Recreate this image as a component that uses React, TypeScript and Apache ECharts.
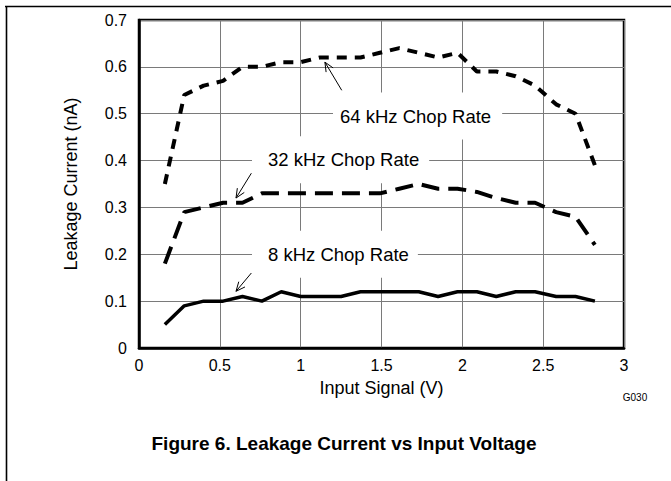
import React, { useEffect, useRef } from "react";
import * as echarts from "echarts";

// ---- data ----
const xValues = [0.16, 0.28, 0.40, 0.52, 0.64, 0.76, 0.88, 1.00, 1.12, 1.25, 1.37, 1.49, 1.61, 1.73, 1.85, 1.97, 2.09, 2.21, 2.33, 2.45, 2.58, 2.70, 2.82];
const rate8 = [0.05, 0.09, 0.10, 0.10, 0.11, 0.10, 0.12, 0.11, 0.11, 0.11, 0.12, 0.12, 0.12, 0.12, 0.11, 0.12, 0.12, 0.11, 0.12, 0.12, 0.11, 0.11, 0.10];
const rate32 = [0.18, 0.29, 0.30, 0.31, 0.31, 0.33, 0.33, 0.33, 0.33, 0.33, 0.33, 0.33, 0.34, 0.35, 0.34, 0.34, 0.333, 0.32, 0.31, 0.31, 0.29, 0.28, 0.22];
const rate64 = [0.35, 0.54, 0.56, 0.57, 0.60, 0.60, 0.61, 0.61, 0.62, 0.62, 0.62, 0.63, 0.64, 0.63, 0.62, 0.63, 0.59, 0.59, 0.58, 0.56, 0.52, 0.50, 0.39];
const seriesNames = ["8 kHz Chop Rate", "32 kHz Chop Rate", "64 kHz Chop Rate"];
const xAxisTitle = "Input Signal (V)";
const yAxisTitle = "Leakage Current (nA)";
const captionText = "Figure 6. Leakage Current vs Input Voltage";
const figureCode = "G030";

// annotation anchors in data units (left edge of the white label box)
const labelAnchors = [
  { text: "64 kHz Chop Rate", x: 1.2, y: 0.495, padL: 7, padR: 11 },
  { text: "32 kHz Chop Rate", x: 0.699, y: 0.402, padL: 16, padR: 10 },
  { text: "8 kHz Chop Rate", x: 0.699, y: 0.2, padL: 16, padR: 9 },
];
const arrowAnchors = [
  { from: [1.254, 0.55], to: [1.15, 0.61] },
  { from: [0.695, 0.373], to: [0.6, 0.32] },
  { from: [0.695, 0.16], to: [0.6, 0.121] },
];

const FONT = "'Liberation Sans', Arial, Helvetica, sans-serif";

export default function App() {
  const ref = useRef<HTMLDivElement>(null);

  useEffect(() => {
    if (!ref.current) return;
    const chart = echarts.init(ref.current, null, { renderer: "svg" });
    const pairs = (ys: number[]) => xValues.map((x, i) => [x, ys[i]]);

    const axisCommon = {
      type: "value" as const,
      axisLine: { show: true, lineStyle: { color: "#000", width: 2.5 } },
      axisTick: { show: false },
      splitLine: { show: true, lineStyle: { color: "#7a7a7a", width: 1 } },
      nameLocation: "middle" as const,
      nameTextStyle: { color: "#000", fontSize: 18, fontFamily: FONT },
    };

    chart.setOption({
      animation: false,
      backgroundColor: "#fff",
      grid: {
        left: 139,
        top: 20,
        right: 47,
        bottom: 133,
        show: true,
        borderColor: "#000",
        borderWidth: 2.5,
        backgroundColor: "transparent",
        containLabel: false,
      },
      xAxis: {
        ...axisCommon,
        min: 0,
        max: 3,
        interval: 0.5,
        name: xAxisTitle,
        nameGap: 31,
        axisLabel: { color: "#000", fontSize: 16, fontFamily: FONT, margin: 9 },
      },
      yAxis: {
        ...axisCommon,
        min: 0,
        max: 0.7,
        interval: 0.1,
        name: yAxisTitle,
        nameGap: 59,
        axisLabel: { color: "#000", fontSize: 16, fontFamily: FONT, margin: 12 },
      },
      series: [
        {
          name: seriesNames[0],
          type: "line",
          data: pairs(rate8),
          symbol: "none",
          lineStyle: { color: "#000", width: 3.5 },
          z: 4,
        },
        {
          name: seriesNames[1],
          type: "line",
          data: pairs(rate32),
          symbol: "none",
          lineStyle: { color: "#000", width: 4, type: [18, 9] },
          z: 4,
        },
        {
          name: seriesNames[2],
          type: "line",
          data: pairs(rate64),
          symbol: "none",
          lineStyle: { color: "#000", width: 4, type: [10, 8] },
          z: 4,
        },
      ],
    });

    const toPx = (p: number[]) => chart.convertToPixel({ gridIndex: 0 }, p) as number[];
    const graphics: any[] = [];

    // page frame lines
    graphics.push({
      type: "line",
      shape: { x1: 5, y1: 6.5, x2: 671, y2: 6.5 },
      style: { stroke: "#000", lineWidth: 1.6 },
      z: 10,
    });
    graphics.push({
      type: "line",
      shape: { x1: 6.5, y1: 6, x2: 6.5, y2: 481 },
      style: { stroke: "#000", lineWidth: 1.6 },
      z: 10,
    });

    labelAnchors.forEach((a) => {
      const [px, py] = toPx([a.x, a.y]);
      graphics.push({
        type: "text",
        x: px,
        y: py,
        z: 2,
        style: {
          text: a.text,
          font: `18.5px ${FONT}`,
          fill: "#000",
          align: "left",
          verticalAlign: "middle",
          textAlign: "left",
          textVerticalAlign: "middle",
          backgroundColor: "#fff",
          padding: [14, a.padR, 14, a.padL],
        },
      });
    });

    arrowAnchors.forEach((a) => {
      const [x1, y1] = toPx(a.from);
      const [x2, y2] = toPx(a.to);
      const ang = Math.atan2(y1 - y2, x1 - x2);
      const len = 10;
      const spread = 0.42;
      graphics.push({
        type: "line",
        shape: { x1, y1, x2, y2 },
        style: { stroke: "#000", lineWidth: 1 },
        z: 3,
      });
      graphics.push({
        type: "polyline",
        shape: {
          points: [
            [x2 + len * Math.cos(ang - spread), y2 + len * Math.sin(ang - spread)],
            [x2, y2],
            [x2 + len * Math.cos(ang + spread), y2 + len * Math.sin(ang + spread)],
          ],
        },
        style: { stroke: "#000", lineWidth: 1, fill: "none" },
        z: 3,
      });
    });

    graphics.push({
      type: "text",
      x: 635,
      y: 397,
      z: 3,
      style: {
        text: figureCode,
        font: `10px ${FONT}`,
        fill: "#000",
        align: "center",
        verticalAlign: "middle",
        textAlign: "center",
        textVerticalAlign: "middle",
      },
    });
    graphics.push({
      type: "text",
      x: 344,
      y: 443,
      z: 3,
      style: {
        text: captionText,
        font: `bold 19px ${FONT}`,
        fill: "#000",
        align: "center",
        verticalAlign: "middle",
        textAlign: "center",
        textVerticalAlign: "middle",
      },
    });

    chart.setOption({ graphic: graphics });

    return () => {
      chart.dispose();
    };
  }, []);

  return (
    <div
      ref={ref}
      style={{ position: "absolute", left: 0, top: 0, width: 671, height: 481, background: "#fff" }}
    />
  );
}
